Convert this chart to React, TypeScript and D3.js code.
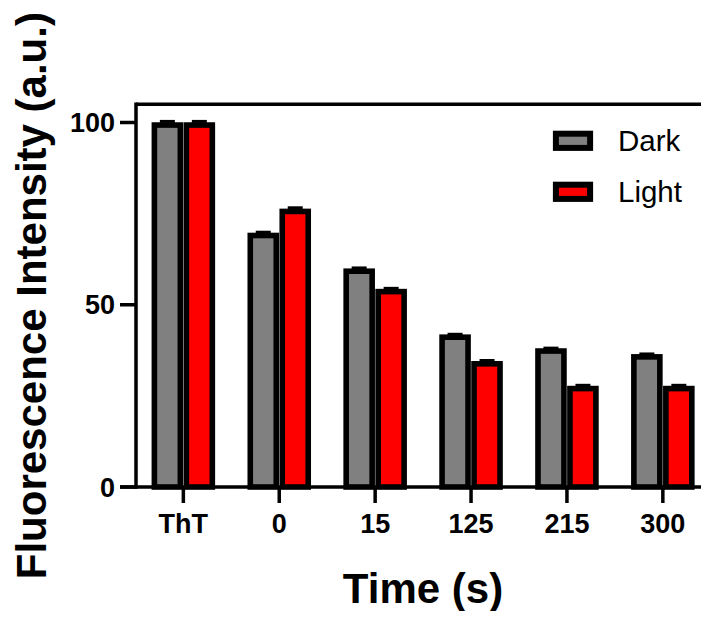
import React from "react";
import * as d3 from "d3";

// Fluorescence intensity vs. exposure time, dark vs. light
const categories = ["ThT", "0", "15", "125", "215", "300"];
const seriesNames = ["Dark", "Light"];
const darkValues = [99.3, 69.0, 59.2, 41.1, 37.3, 35.7];
const lightValues = [99.3, 75.6, 53.6, 33.8, 27.0, 27.0];
const darkErrors = [1.0, 0.9, 0.9, 0.8, 0.8, 0.8];
const lightErrors = [1.0, 1.0, 0.9, 0.9, 0.9, 0.9];
const yTicks = [0, 50, 100];
const seriesColors = ["#808080", "#ff0000"];

const W = 709;
const H = 619;
const FONT = "Arial, 'Liberation Sans', Helvetica, sans-serif";

export default function App() {
  const left = 136;
  const bottom = 487;
  const plotRight = 709;

  const y = d3.scaleLinear().domain([0, 105]).range([bottom, bottom - 105 * 3.645]);
  const x0 = d3
    .scaleBand<string>()
    .domain(categories)
    .range([135.4, 710.8])
    .paddingInner(0.3333)
    .paddingOuter(0.1667);
  const x1 = d3.scaleBand<string>().domain(seriesNames).range([0, x0.bandwidth()]);

  const series = [
    { name: seriesNames[0], values: darkValues, errors: darkErrors, color: seriesColors[0] },
    { name: seriesNames[1], values: lightValues, errors: lightErrors, color: seriesColors[1] },
  ];

  const strokeW = 5.6;
  const inset = 3;
  const top = y(105);

  return (
    <div style={{ margin: -8 }}>
      <svg width={W} height={H} style={{ display: "block", background: "#fff" }} fontFamily={FONT}>
        {/* bars */}
        {series.map((s) =>
          categories.map((c, i) => {
            const bx = (x0(c) ?? 0) + (x1(s.name) ?? 0) + inset;
            const bw = x1.bandwidth() - inset * 2;
            const yTop = y(s.values[i]);
            return (
              <rect
                key={s.name + c}
                x={bx}
                y={yTop}
                width={bw}
                height={y(0) - yTop}
                fill={s.color}
                stroke="#000"
                strokeWidth={strokeW}
              />
            );
          })
        )}
        {/* upper error bars */}
        {series.map((s) =>
          categories.map((c, i) => {
            const cx = (x0(c) ?? 0) + (x1(s.name) ?? 0) + x1.bandwidth() / 2;
            const yv = y(s.values[i]);
            const ye = y(s.values[i] + s.errors[i]);
            return (
              <g key={"e" + s.name + c} stroke="#000" strokeWidth={3}>
                <line x1={cx} x2={cx} y1={yv} y2={ye} />
                <line x1={cx - 7.5} x2={cx + 7.5} y1={ye} y2={ye} />
              </g>
            );
          })
        )}

        {/* frame */}
        <line x1={left} x2={plotRight} y1={top} y2={top} stroke="#000" strokeWidth={3.5} />
        <line x1={707.5} x2={707.5} y1={top} y2={bottom} stroke="#d8d8d8" strokeWidth={1} />
        <line x1={left} x2={left} y1={top - 1.75} y2={bottom + 1.75} stroke="#000" strokeWidth={3.5} />
        <line x1={120} x2={plotRight} y1={bottom} y2={bottom} stroke="#000" strokeWidth={3.5} />

        {/* y ticks */}
        {yTicks.map((t) => (
          <g key={"yt" + t}>
            <line x1={120} x2={left} y1={y(t)} y2={y(t)} stroke="#000" strokeWidth={3.5} />
            <text
              x={115}
              y={y(t) + 9.7}
              textAnchor="end"
              fontSize={27}
              fontWeight="bold"
              fill="#000"
            >
              {t}
            </text>
          </g>
        ))}

        {/* x ticks */}
        {categories.map((c) => {
          const cx = (x0(c) ?? 0) + x0.bandwidth() / 2;
          return (
            <g key={"xt" + c}>
              <line x1={cx} x2={cx} y1={bottom} y2={bottom + 16} stroke="#000" strokeWidth={3.5} />
              <text x={cx} y={533} textAnchor="middle" fontSize={27} fontWeight="bold" fill="#000">
                {c}
              </text>
            </g>
          );
        })}

        {/* axis titles */}
        <text x={423} y={603} textAnchor="middle" fontSize={42} fontWeight="bold" fill="#000">
          Time (s)
        </text>
        <text
          transform={`translate(46, ${(top + bottom) / 2}) rotate(-90)`}
          textAnchor="middle"
          fontSize={42}
          fontWeight="bold"
          fill="#000"
        >
          Fluorescence Intensity (a.u.)
        </text>

        {/* legend */}
        {series.map((s, i) => {
          const ly = 140.8 + i * 51;
          return (
            <g key={"lg" + s.name}>
              <rect
                x={555.9}
                y={ly - 7.1}
                width={34.2}
                height={14.2}
                fill={s.color}
                stroke="#000"
                strokeWidth={6}
              />
              <text x={618} y={ly + 10} fontSize={29.5} fill="#000">
                {s.name}
              </text>
            </g>
          );
        })}
      </svg>
    </div>
  );
}
